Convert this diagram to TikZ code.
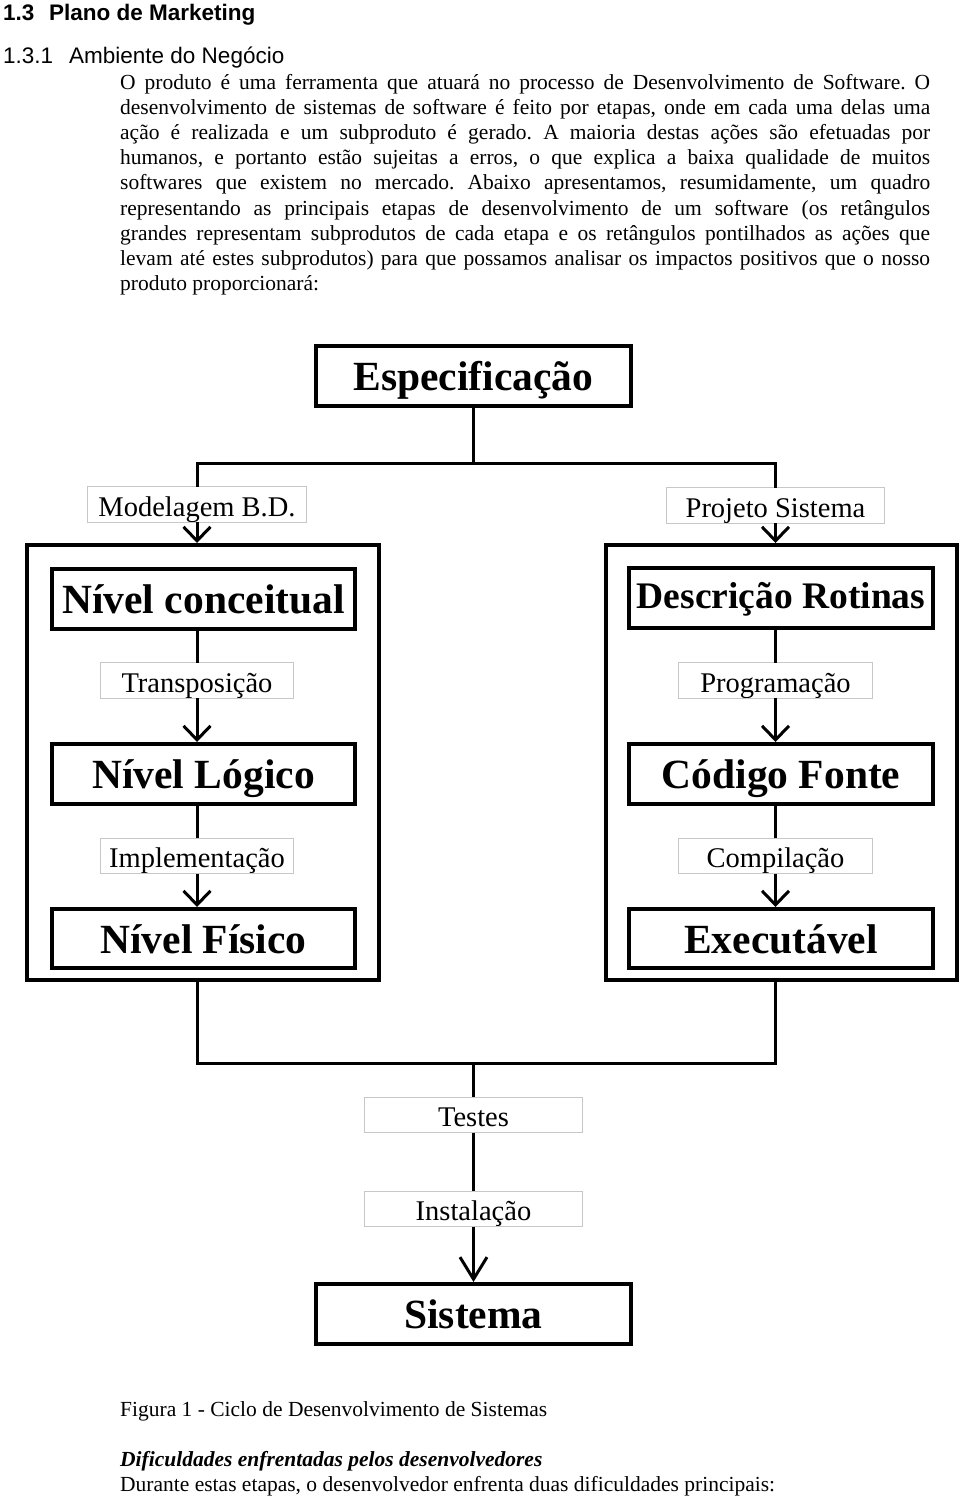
\documentclass[tikz,border=0pt]{standalone}
\usepackage{fontspec}
\setmainfont{Liberation Serif}
\newfontfamily\arialfont{Liberation Sans}
\usetikzlibrary{arrows.meta}
\frenchspacing
\newcommand\lblnode[5]{%
  \node[lblbox, minimum width=#4] (#1) at (#2,#3) {};
  \begin{scope}
    \clip (#1.south west) rectangle (#1.north east);
    \node[lbltxt] (#1-t) at ([yshift=6pt]#1.south) {#5};
  \end{scope}
  \draw[lbledge] (#1.south west) rectangle (#1.north east);
}
\begin{document}
\frenchspacing
\begin{tikzpicture}[x=1pt,y=-1pt,
  bigbox/.style={draw, line width=4pt, inner sep=0pt, minimum height=60pt, text height=29pt, text depth=0pt, font=\fontsize{41.5}{41.5}\selectfont\bfseries},
  outerbox/.style={draw, line width=4pt, inner sep=0pt},
  lblbox/.style={inner sep=0pt, minimum height=35pt},
  lbledge/.style={draw=black!22, line width=1pt},
  lbltxt/.style={inner sep=0pt, anchor=base, font=\fontsize{28.5}{28.5}\selectfont},
  conn/.style={line width=3pt},
  arr/.style={conn, -{Straight Barb[length=14pt,width=27pt]}},
  body/.style={anchor=base west, inner sep=0pt, font=\fontsize{21.5}{21.5}\selectfont},
  headb/.style={anchor=base west, inner sep=0pt, font=\arialfont\bfseries\fontsize{22.5}{22.5}\selectfont},
  headr/.style={anchor=base west, inner sep=0pt, font=\arialfont\fontsize{22.5}{22.5}\selectfont},
]
\fill[white] (0,0) rectangle (960,1499);
\useasboundingbox (0,0) rectangle (960,1499);

% headings
\node[headb] (h1n) at (3,20) {1.3};
\node[headb] (h1t) at (49,20) {Plano de Marketing};
\node[headr] (h2n) at (3,63) {1.3.1};
\node[headr] (h2t) at (69,63) {Ambiente do Negócio};

% body text
\node[body] (l1) at (120,89.0) {\makebox[810pt][s]{O produto é uma ferramenta que atuará no processo de Desenvolvimento de Software. O}};
\node[body] (l2) at (120,114.2) {\makebox[810pt][s]{desenvolvimento de sistemas de software é feito por etapas, onde em cada uma delas uma}};
\node[body] (l3) at (120,139.4) {\makebox[810pt][s]{ação é realizada e um subproduto é gerado. A maioria destas ações são efetuadas por}};
\node[body] (l4) at (120,164.6) {\makebox[810pt][s]{humanos, e portanto estão sujeitas a erros, o que explica a baixa qualidade de muitos}};
\node[body] (l5) at (120,189.8) {\makebox[810pt][s]{softwares que existem no mercado. Abaixo apresentamos, resumidamente, um quadro}};
\node[body] (l6) at (120,215.0) {\makebox[810pt][s]{representando as principais etapas de desenvolvimento de um software (os retângulos}};
\node[body] (l7) at (120,240.2) {\makebox[810pt][s]{grandes representam subprodutos de cada etapa e os retângulos pontilhados as ações que}};
\node[body] (l8) at (120,265.4) {\makebox[810pt][s]{levam até estes subprodutos) para que possamos analisar os impactos positivos que o nosso}};
\node[body] (l9) at (120,290.6) {produto proporcionará:};

% main boxes
\node[bigbox, minimum width=315pt] (esp) at (473.5,376) {Especificação};
\node[outerbox, minimum width=352pt, minimum height=435pt] (outerL) at (203,762.5) {};
\node[outerbox, minimum width=351pt, minimum height=435pt] (outerR) at (781.5,762.5) {};
\node[bigbox, minimum width=303pt] (nc) at (203.5,598.5) {Nível conceitual};
\node[bigbox, minimum width=304pt, text height=20pt, font=\fontsize{37.5}{37.5}\selectfont\bfseries] (dr) at (781,598) {Descrição Rotinas};
\node[bigbox, minimum width=303pt] (nl) at (203.5,774) {Nível Lógico};
\node[bigbox, minimum width=304pt] (cf) at (781,774) {Código Fonte};
\node[bigbox, minimum width=303pt, minimum height=59pt] (nf) at (203.5,938.5) {Nível Físico};
\node[bigbox, minimum width=304pt, minimum height=59pt] (ex) at (781,938.5) {Executável};
\node[bigbox, minimum width=315pt] (sis) at (473.5,1314) {Sistema};

% action labels
\lblnode{lblL}{197}{504.5}{218pt}{Modelagem B.D.}
\lblnode{lblR}{775.5}{505.5}{217pt}{Projeto Sistema}
\lblnode{transp}{197}{680.5}{193pt}{Transposição}
\lblnode{prog}{775.5}{680.5}{194pt}{Programação}
\lblnode{impl}{197}{856}{193pt}{Implementação}
\lblnode{comp}{775.5}{856}{194pt}{Compilação}
\lblnode{testes}{473.5}{1115}{217pt}{Testes}
\lblnode{inst}{473.5}{1209}{217pt}{Instalação}

\coordinate (top) at (473.5,463);
\coordinate (bot) at (473.5,1063);

% connectors
\draw[conn] (esp.south) -- (top);
\draw[conn] (lblL.north) |- (top) -| (lblR.north);
\draw[arr] (lblL.south) -- (outerL.north -| lblL.south);
\draw[arr] (lblR.south) -- (outerR.north -| lblR.south);
\draw[conn] (nc.south -| transp.north) -- (transp.north);
\draw[arr] (transp.south) -- (nl.north -| transp.south);
\draw[conn] (nl.south -| impl.north) -- (impl.north);
\draw[arr] (impl.south) -- (nf.north -| impl.south);
\draw[conn] (dr.south -| prog.north) -- (prog.north);
\draw[arr] (prog.south) -- (cf.north -| prog.south);
\draw[conn] (cf.south -| comp.north) -- (comp.north);
\draw[arr] (comp.south) -- (ex.north -| comp.south);
\draw[conn] (outerL.south -| lblL.south) |- (bot) -| (outerR.south -| lblR.south);
\draw[conn] (bot) -- (testes.north);
\draw[conn] (testes.south) -- (inst.north);
\draw[conn, -{Straight Barb[length=22pt,width=27pt]}] (inst.south) -- (sis.north -| inst.south);

% caption and following text
\node[body] (cap) at (120,1416) {Figura 1 - Ciclo de Desenvolvimento de Sistemas};
\node[body, font=\fontsize{21.5}{21.5}\selectfont\bfseries\itshape] (dif) at (120,1466) {Dificuldades enfrentadas pelos desenvolvedores};
\node[body] (dur) at (120,1491) {Durante estas etapas, o desenvolvedor enfrenta duas dificuldades principais:};
\end{tikzpicture}
\end{document}
